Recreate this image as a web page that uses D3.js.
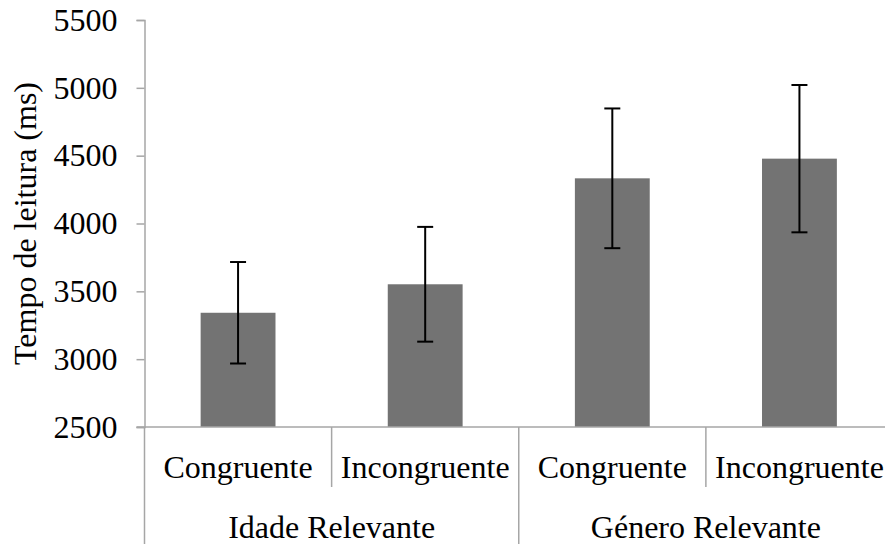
<!DOCTYPE html>
<html><head><meta charset="utf-8">
<script src="https://cdn.jsdelivr.net/npm/d3@7/dist/d3.min.js"></script>
</head><body style="margin:0;background:#fff"><svg id="c" width="885" height="544" style="display:block;font-family:'Liberation Serif','Times New Roman',Times,serif"></svg>
<script>
const categories = ["Congruente","Incongruente","Congruente","Incongruente"];
const groups = ["Idade Relevante","Género Relevante"];
const means = [3342,3552,4333,4478];
const errors = [374,423,515,543];
const yTicks = [2500,3000,3500,4000,4500,5000,5500];
const yTitle = "Tempo de leitura (ms)";

const svg = d3.select("#c");
const mLeft = 144.5, mRight = 893, mTop = 20, mBottom = 427;
const axisColor = "#a6a6a6";
const fs = "32px";
const ff = "Liberation Serif";

const x = d3.scaleBand().domain(d3.range(categories.length)).range([mLeft,mRight]).padding(0);
const y = d3.scaleLinear().domain([2500,5500]).range([mBottom,mTop]);
const bw = x.bandwidth()*0.4;

function styleText(sel){
  sel.attr("font-family",ff).style("font-family",`"${ff}"`).style("font-size",fs).attr("fill","#000");
}

// y axis
const ya = svg.append("g").attr("transform",`translate(${mLeft},0)`)
  .call(d3.axisLeft(y).tickValues(yTicks).tickSize(8).tickPadding(19).tickFormat(d3.format("d")));
ya.attr("font-family",null).attr("font-size",null);
ya.select(".domain").attr("stroke",axisColor).attr("stroke-width",1.5);
ya.selectAll(".tick line").attr("stroke",axisColor).attr("stroke-width",1.5);
ya.selectAll(".tick text").call(styleText);

svg.append("text").attr("transform",`translate(36,${(mTop+mBottom)/2}) rotate(-90)`)
  .attr("text-anchor","middle").text(yTitle).call(styleText);

// bars
svg.append("g").selectAll("rect").data(means).join("rect")
  .attr("x",(d,i)=>x(i)+x.bandwidth()/2-bw/2).attr("width",bw)
  .attr("y",d=>y(d)).attr("height",d=>mBottom-y(d))
  .attr("fill","#737373");

// error bars
const eb = svg.append("g").attr("stroke","#000").attr("stroke-width",2);
means.forEach((m,i)=>{
  const cx = x(i)+x.bandwidth()/2;
  eb.append("line").attr("x1",cx).attr("x2",cx).attr("y1",y(m+errors[i])).attr("y2",y(m-errors[i]));
  eb.append("line").attr("x1",cx-8).attr("x2",cx+8).attr("y1",y(m+errors[i])).attr("y2",y(m+errors[i]));
  eb.append("line").attr("x1",cx-8).attr("x2",cx+8).attr("y1",y(m-errors[i])).attr("y2",y(m-errors[i]));
});

// x axis line
svg.append("line").attr("x1",mLeft-8).attr("x2",mRight).attr("y1",mBottom).attr("y2",mBottom)
  .attr("stroke",axisColor).attr("stroke-width",1.5);

// dividers
const dv = svg.append("g").attr("stroke",axisColor).attr("stroke-width",1.5);
d3.range(categories.length+1).forEach(i=>{
  const xx = i<categories.length ? x(i) : mRight;
  const outer = i%2===0;
  dv.append("line").attr("x1",xx).attr("x2",xx).attr("y1",mBottom).attr("y2",outer?544:487);
});

// category labels
svg.append("g").selectAll("text").data(categories).join("text")
  .attr("x",(d,i)=>x(i)+x.bandwidth()/2).attr("y",478)
  .attr("text-anchor","middle").text(d=>d).call(styleText);

// group labels
svg.append("g").selectAll("text").data(groups).join("text")
  .attr("x",(d,i)=>(x(i*2)+(i*2+2<categories.length?x(i*2+2):mRight))/2).attr("y",538)
  .attr("text-anchor","middle").text(d=>d).call(styleText);
</script></body></html>
